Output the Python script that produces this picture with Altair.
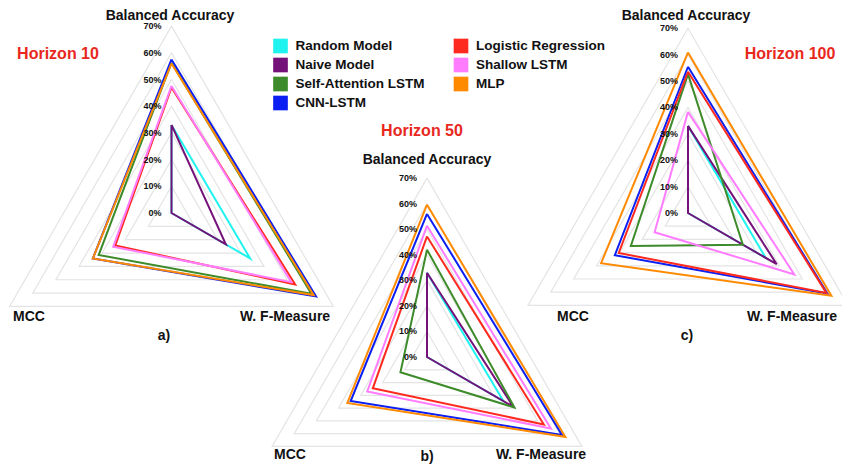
import math
import altair as alt
import pandas as pd

# ---------------- data ----------------
models = ["Random Model", "Naive Model", "Self-Attention LSTM", "CNN-LSTM",
          "Logistic Regression", "Shallow LSTM", "MLP"]
colors = ["#1ff3f0", "#74127a", "#3d8b2a", "#0b1ff2", "#ff2a1f", "#ff7cff", "#ff8a00"]
metrics = ["Balanced Accuracy", "W. F-Measure", "MCC"]
horizons = ["Horizon 10", "Horizon 50", "Horizon 100"]
panel_tags = ["a)", "b)", "c)"]
tick_values = [0, 10, 20, 30, 40, 50, 60, 70]
tick_labels = ["0%", "10%", "20%", "30%", "40%", "50%", "60%", "70%"]

# values in %, one entry per model (order of `models`)
ba_h10 = [33.0, 33.0, 56.3, 57.5, 47.0, 47.6, 56.0]
wf_h10 = [34.0, 23.5, 60.5, 62.5, 53.5, 51.8, 61.5]
mcc_h10 = [0.0, 0.0, 31.5, 34.0, 24.3, 25.2, 34.0]

ba_h50 = [33.0, 33.0, 42.0, 56.0, 47.2, 51.4, 59.6]
wf_h50 = [34.5, 39.0, 39.5, 61.0, 52.8, 56.0, 62.5]
mcc_h50 = [0.0, 0.0, 12.0, 34.5, 24.5, 27.0, 36.0]

ba_h100 = [33.0, 33.0, 52.6, 55.4, 53.5, 38.3, 60.8]
wf_h100 = [34.0, 38.8, 24.0, 61.0, 60.5, 46.5, 62.7]
mcc_h100 = [0.0, 0.0, 25.0, 32.0, 30.3, 14.6, 38.0]

series = [
    (ba_h10, wf_h10, mcc_h10),
    (ba_h50, wf_h50, mcc_h50),
    (ba_h100, wf_h100, mcc_h100),
]

# ---------------- layout (page pixels) ----------------
W, H = 834, 457
OFF = 8
centers = [(171.5, 213.0), (427.0, 357.0), (688.0, 213.0)]
px_per_pct = [2.67, 2.555, 2.64]
angles = [90.0, -30.0, 210.0]  # BA, WF, MCC

metric_label_pos = [
    [(170, 15.5), (285, 317), (29, 317)],
    [(427, 160), (541, 455), (290, 455)],
    [(686, 15.5), (792, 317), (573, 317)],
]
tag_pos = [(164, 336), (427, 457), (687, 336)]
horizon_pos = [(58, 54), (422, 131), (790, 54)]


def pt(p, value, mi):
    cx, cy = centers[p]
    r = value * px_per_pct[p]
    a = math.radians(angles[mi])
    return cx + r * math.cos(a) - OFF, cy - r * math.sin(a) - OFF


# polygons of the models
rows = []
for p in range(3):
    for m, name in enumerate(models):
        vals = [series[p][0][m], series[p][1][m], series[p][2][m]]
        for k, mi in enumerate([0, 1, 2, 0]):
            x, y = pt(p, vals[mi], mi)
            rows.append({"key": f"{p}-{m}", "model": name, "k": k, "x": x, "y": y})
df_lines = pd.DataFrame(rows)

# grid rings
grid = []
for p in range(3):
    for v in tick_values[1:]:
        for k, mi in enumerate([0, 1, 2, 0]):
            x, y = pt(p, v, mi)
            grid.append({"key": f"g{p}-{v}", "k": k, "x": x, "y": y})
df_grid = pd.DataFrame(grid)

# tick labels
ticks = []
for p in range(3):
    cx, cy = centers[p]
    for v, lab in zip(tick_values, tick_labels):
        ticks.append({"x": cx - 10 - OFF, "y": cy - v * px_per_pct[p] - OFF, "t": lab})
df_ticks = pd.DataFrame(ticks)

# titles / labels
labels = []
for p in range(3):
    for mi, name in enumerate(metrics):
        x, y = metric_label_pos[p][mi]
        labels.append({"x": x - OFF, "y": y - OFF, "t": name})
    x, y = tag_pos[p]
    labels.append({"x": x - OFF, "y": y - OFF, "t": panel_tags[p]})
df_labels = pd.DataFrame(labels)

df_hor = pd.DataFrame([
    {"x": horizon_pos[p][0] - OFF, "y": horizon_pos[p][1] - OFF, "t": horizons[p]}
    for p in range(3)
])

# legend
leg = []
for i, name in enumerate(models):
    col, row = (0, i) if i < 4 else (1, i - 4)
    sx = [280.5, 461.0][col]
    sy = 46.0 + row * 19.0
    leg.append({"x": sx - OFF, "y": sy - OFF, "tx": sx + 15 - OFF, "model": name})
df_leg = pd.DataFrame(leg)

# ---------------- chart ----------------
X = alt.X("x:Q", scale=alt.Scale(domain=[0, W], nice=False, zero=False), axis=None)
Y = alt.Y("y:Q", scale=alt.Scale(domain=[0, H], nice=False, zero=False, reverse=True), axis=None)
color_scale = alt.Scale(domain=models, range=colors)

grid_layer = alt.Chart(df_grid).mark_line(stroke="#e4e4e4", strokeWidth=1.2).encode(
    x=X, y=Y, detail="key:N", order="k:Q")

lines_layer = alt.Chart(df_lines).mark_line(strokeWidth=2, strokeJoin="miter").encode(
    x=X, y=Y, detail="key:N", order="k:Q",
    color=alt.Color("model:N", scale=color_scale, legend=None))

tick_layer = alt.Chart(df_ticks).mark_text(
    align="right", baseline="middle", fontSize=9, fontWeight="bold",
    font="Liberation Sans", color="#111111").encode(x=X, y=Y, text="t:N")

label_layer = alt.Chart(df_labels).mark_text(
    align="center", baseline="middle", fontSize=14, fontWeight="bold",
    font="Liberation Sans", color="#111111").encode(x=X, y=Y, text="t:N")

hor_layer = alt.Chart(df_hor).mark_text(
    align="center", baseline="middle", fontSize=16, fontWeight="bold",
    font="Liberation Sans", color="#e8271d").encode(x=X, y=Y, text="t:N")

leg_sq = alt.Chart(df_leg).mark_square(size=215, opacity=1, filled=True).encode(
    x=X, y=Y, color=alt.Color("model:N", scale=color_scale, legend=None))

leg_tx = alt.Chart(df_leg).mark_text(
    align="left", baseline="middle", fontSize=13.5, fontWeight="bold",
    font="Liberation Sans", color="#111111").encode(
    x=alt.X("tx:Q", scale=alt.Scale(domain=[0, W], nice=False, zero=False), axis=None),
    y=Y, text="model:N")

chart = alt.layer(grid_layer, lines_layer, tick_layer, label_layer, hor_layer, leg_sq, leg_tx).properties(
    width=W, height=H, padding=0, autosize=alt.AutoSizeParams(type="none"),
    background="white",
).configure_view(stroke=None)

chart.save("out.html", embed_options={"renderer": "svg", "actions": False})
